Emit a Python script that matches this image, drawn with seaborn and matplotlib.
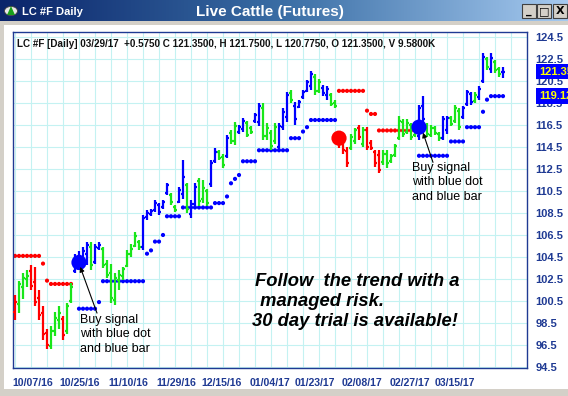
import matplotlib
matplotlib.use("Agg")
import matplotlib.pyplot as plt
import matplotlib.patches as mpatches
from matplotlib.colors import LinearSegmentedColormap
from matplotlib.transforms import blended_transform_factory
import numpy as np
import pandas as pd
import seaborn as sns

# ---------------- data ----------------
bar_high = [101.0, 102.3, 103.0, 103.3, 103.8, 103.6, 101.5, 100.0, 98.0, 98.2,
            99.5, 100.0, 99.1, 100.3, 102.1, 104.8, 105.0, 105.4, 105.9, 105.9,
            105.7, 105.9, 105.4, 104.2, 103.9, 103.0, 103.3, 103.6, 105.1, 105.7,
            106.8, 106.0, 108.3, 108.8, 108.9, 109.7, 109.4, 109.7, 111.2, 110.3,
            109.2, 110.9, 113.3, 111.2, 109.7, 111.2, 111.7, 111.5, 110.7, 113.3,
            114.4, 114.2, 113.9, 115.6, 116.0, 116.8, 116.5, 117.1, 116.9, 116.4,
            117.6, 118.5, 118.5, 116.7, 116.0, 116.7, 116.7, 118.0, 119.5, 119.7,
            118.6, 118.8, 119.7, 120.6, 121.4, 121.1, 120.7, 120.1, 120.0, 119.4,
            118.8, 115.8, 115.1, 114.5, 115.7, 116.2, 116.5, 116.3, 116.3, 115.1,
            114.2, 114.2, 114.2, 114.2, 113.9, 114.8, 117.3, 117.0, 117.0, 116.7,
            116.5, 118.3, 119.1, 116.7, 116.5, 116.4, 115.9, 117.3, 117.3, 117.3,
            118.3, 118.0, 118.2, 119.7, 119.5, 119.5, 120.0, 123.0, 122.7, 123.0,
            122.4, 121.8, 121.75]
bar_low = [98.8, 99.4, 100.7, 101.8, 101.5, 100.0, 98.8, 97.0, 96.1, 96.1,
           97.3, 98.0, 97.0, 97.5, 100.3, 103.0, 103.6, 104.2, 103.8, 103.3,
           103.9, 105.1, 103.5, 102.6, 100.3, 100.1, 101.5, 102.4, 103.6, 104.5,
           105.4, 105.1, 105.1, 107.9, 108.2, 108.6, 108.3, 108.9, 110.1, 109.2,
           108.6, 109.4, 109.8, 108.5, 108.0, 109.1, 109.1, 109.4, 109.1, 110.9,
           113.0, 113.3, 112.6, 113.5, 114.8, 114.7, 115.7, 115.9, 115.4, 115.7,
           116.7, 116.4, 115.1, 115.1, 114.2, 114.8, 114.2, 116.0, 116.8, 118.5,
           116.5, 118.0, 118.9, 119.5, 119.7, 119.2, 119.4, 119.1, 118.8, 118.2,
           118.0, 114.4, 113.9, 112.7, 114.2, 114.8, 115.1, 114.5, 114.2, 114.2,
           112.7, 112.1, 112.9, 112.6, 113.0, 113.6, 115.1, 115.4, 115.7, 115.1,
           115.4, 115.1, 116.7, 115.4, 115.4, 115.6, 115.0, 115.1, 115.7, 116.4,
           116.7, 116.0, 117.0, 118.2, 118.3, 118.5, 118.8, 120.3, 121.5, 121.2,
           121.2, 120.9, 120.775]
bar_open = [99.5, 100.2, 101.8, 102.5, 103.2, 102.2, 100.8, 99.4, 97.6, 96.4,
            97.8, 98.8, 98.9, 97.8, 100.5, 103.2, 104.2, 104.5, 104.8, 105.4,
            104.0, 105.3, 105.2, 103.9, 103.0, 100.6, 102.4, 102.8, 103.7, 104.8,
            105.5, 105.9, 105.4, 108.1, 108.4, 108.8, 109.2, 109.0, 110.3, 110.1,
            109.0, 109.5, 110.2, 111.0, 108.4, 109.3, 111.4, 109.8, 110.5, 111.1,
            113.2, 114.0, 113.6, 113.7, 115.8, 115.0, 115.9, 116.1, 116.7, 116.2,
            116.9, 116.8, 118.0, 115.5, 115.8, 115.0, 114.5, 116.3, 117.2, 119.4,
            118.2, 118.1, 119.0, 119.6, 120.0, 120.9, 119.6, 119.9, 119.2, 119.2,
            118.5, 115.5, 114.8, 114.1, 114.4, 115.0, 116.2, 114.8, 116.0, 114.9,
            114.0, 113.8, 113.1, 113.9, 113.2, 113.8, 115.3, 116.8, 115.9, 116.5,
            115.6, 115.5, 118.2, 116.5, 115.6, 116.2, 115.7, 115.3, 116.0, 117.1,
            116.9, 117.8, 117.2, 118.4, 119.3, 118.7, 119.0, 120.5, 122.5, 121.6,
            122.2, 121.6, 121.35]
bar_close = [100.4, 102.0, 102.6, 102.8, 101.9, 100.4, 99.2, 97.5, 96.5, 97.8,
             99.0, 99.4, 97.4, 100.0, 101.8, 104.4, 104.6, 105.0, 105.6, 103.8,
             105.4, 105.6, 103.8, 102.9, 100.8, 102.6, 102.9, 103.4, 104.8, 105.2,
             106.4, 105.4, 108.0, 108.5, 108.7, 109.4, 108.6, 109.5, 111.0, 109.5,
             108.8, 110.6, 111.8, 108.9, 109.3, 110.9, 109.6, 110.8, 109.4, 113.0,
             114.0, 113.5, 112.9, 115.3, 115.0, 116.4, 116.3, 116.9, 115.6, 115.9,
             117.4, 118.2, 115.5, 116.2, 114.6, 116.3, 116.4, 117.7, 119.2, 118.8,
             117.0, 118.6, 119.5, 120.4, 121.1, 119.6, 120.4, 119.4, 119.8, 118.4,
             118.2, 114.8, 114.2, 113.0, 115.4, 116.0, 115.4, 116.0, 114.5, 114.4,
             113.0, 112.4, 113.9, 113.0, 113.7, 114.6, 116.9, 115.7, 116.7, 115.4,
             116.2, 118.0, 117.0, 115.7, 116.2, 115.8, 115.3, 117.0, 117.1, 116.6,
             118.0, 116.3, 118.0, 119.5, 118.6, 119.2, 119.8, 122.7, 121.8, 122.6,
             121.5, 121.1, 121.35]
bar_state = ("rgggrrrrrg" "ggrggbbbbg" "bbgggggggg" "ggbbbbbbbg" "gbbgbbgggb"
             "bggbggbbgg" "bbggggbbbg" "bbbbbggbbg" "grrrggrgrr" "rrgggggggg"
             "gbbggggbbg" "ggbbbgbbgb" "ggb")

# trailing stop dots: (first bar, last bar, level)
blue_stop_first = [16, 21, 22, 33, 34, 35, 37, 38, 42, 50, 53, 54, 55, 56, 57, 61, 69, 72, 73, 74,
                   101, 109, 113, 117, 118, 119]
blue_stop_last = [20, 21, 32, 33, 34, 36, 37, 41, 49, 52, 53, 54, 55, 56, 60, 68, 71, 72, 73, 80,
                  108, 112, 116, 117, 118, 122]
blue_stop_level = [99.8, 100.4, 102.3, 104.8, 105.1, 105.9, 106.5, 108.2, 109.0, 109.4, 110.0, 111.2,
                   111.6, 111.95, 113.2, 114.2, 115.3, 115.9, 116.3, 116.95,
                   113.7, 115.0, 116.3, 117.7, 118.8, 119.12]
red_stop_first = [0, 7, 8, 9, 81, 88, 89, 91]
red_stop_last = [6, 7, 8, 14, 87, 88, 90, 100]
red_stop_level = [104.6, 103.9, 102.35, 102.05, 119.6, 117.8, 117.5, 116.0]

# signal dots
buy_bars = [16, 101]
buy_prices = [104.0, 116.3]
sell_bars = [81]
sell_prices = [115.3]

date_bars = [4.5, 16.25, 28.25, 40.25, 51.75, 63.75, 75.0, 86.75, 98.75, 110.0]
date_labels = ["10/07/16", "10/25/16", "11/10/16", "11/29/16", "12/15/16",
               "01/04/17", "01/23/17", "02/08/17", "02/27/17", "03/15/17"]
price_ticks = [94.5, 96.5, 98.5, 100.5, 102.5, 104.5, 106.5, 108.5, 110.5,
               112.5, 114.5, 116.5, 118.5, 120.5, 122.5, 124.5]
last_close = 121.35
last_stop = 119.12

header = ("LC #F [Daily] 03/29/17  +0.5750 C 121.3500, H 121.7500, L 120.7750, "
          "O 121.3500, V 9.5800K")

# ---------------- styling ----------------
sns.set_style("white")
plt.rcParams['font.family'] = ['Liberation Sans', 'DejaVu Sans']

W, H = 568, 396
fig = plt.figure(figsize=(W / 100, H / 100), dpi=100)
fig.patch.set_facecolor('white')


def fx(px):
    return px / W


def fy(py):
    return 1 - py / H


AXIS_BLUE = '#1f3a93'
GRID = '#c4f2f2'
COLMAP = {'r': '#ff0000', 'g': '#19e619', 'b': '#0000ff'}

# window chrome
fig.add_artist(mpatches.Rectangle((0, 0), fx(4), 1, transform=fig.transFigure,
                                  facecolor='#d4d0c8', edgecolor='none', zorder=0))
fig.add_artist(mpatches.Rectangle((0, 0), 1, 7 / H, transform=fig.transFigure,
                                  facecolor='#d4d0c8', edgecolor='none', zorder=0))
fig.add_artist(mpatches.Rectangle((0, fy(25)), 1, 4 / H, transform=fig.transFigure,
                                  facecolor='#d4d0c8', edgecolor='none', zorder=0))

ax_t = fig.add_axes([0, fy(21), 1, 21 / H])
grad = LinearSegmentedColormap.from_list('tb', ['#0a246a', '#3a6ea5', '#a6caf0'])
ax_t.imshow(np.linspace(0, 1, 256)[None, :], cmap=grad, aspect='auto', extent=[0, 1, 0, 1])
ax_t.set_axis_off()
fig.add_artist(mpatches.Circle((fx(11), fy(11)), 6.5 / W, transform=fig.transFigure,
                               facecolor='#e8e8e8', edgecolor='#404040', lw=0.6, zorder=5))
fig.add_artist(mpatches.Polygon([(fx(7), fy(15)), (fx(15), fy(15)), (fx(11), fy(6))],
                                closed=True, transform=fig.transFigure,
                                facecolor='#1aa01a', edgecolor='none', zorder=6))
fig.text(fx(22), fy(12), "LC #F Daily", color='white', fontsize=8, weight='bold',
         va='center', ha='left')
fig.text(fx(270), fy(12), "Live Cattle (Futures)", color='white', fontsize=11,
         weight='bold', va='center', ha='center')
for bx, sym in [(522, '_'), (537, '□'), (553, 'X')]:
    fig.add_artist(mpatches.Rectangle((fx(bx), fy(18)), 14 / W, 14 / H,
                                      transform=fig.transFigure, facecolor='#d4d0c8',
                                      edgecolor='#404040', lw=0.8, zorder=5))
    fig.text(fx(bx + 7), fy(11.5), sym, color='black', fontsize=8, weight='bold',
             ha='center', va='center', zorder=6, family=['DejaVu Sans'])

# main axes
ax = fig.add_axes([fx(13), fy(368), (527 - 13) / W, (368 - 32) / H])
ax.set_facecolor('white')
ax.set_xlim(-0.5, 128)
ax.set_ylim(94.41, 124.95)

n = len(bar_high)
idx = np.arange(n)
cols = [COLMAP[s] for s in bar_state]

# grid
ax.set_yticks(price_ticks)
ax.set_yticklabels([f"{v:.1f}" for v in price_ticks])
ax.set_xticks(date_bars)
ax.set_xticklabels(date_labels)
ax.set_xticks(np.arange(0, 128, 4), minor=True)
ax.grid(True, which='minor', axis='x', color=GRID, lw=0.8)
ax.grid(True, which='major', axis='y', color=GRID, lw=0.8)
ax.set_axisbelow(True)

for sp in ax.spines.values():
    sp.set_color(AXIS_BLUE)
    sp.set_linewidth(1.0)

ax.yaxis.tick_right()
ax.tick_params(axis='y', length=0, pad=6, labelsize=8, labelcolor=AXIS_BLUE)
for t in ax.get_yticklabels():
    t.set_fontweight('bold')
ax.tick_params(axis='x', which='major', length=0, pad=7, labelsize=7.6,
               labelcolor=AXIS_BLUE)
ax.tick_params(axis='x', which='minor', length=3, width=0.8, color=AXIS_BLUE,
               direction='out')
for t in ax.get_xticklabels():
    t.set_fontweight('bold')

# trailing stop dots
stop_rows = []
for f, l, v in zip(blue_stop_first, blue_stop_last, blue_stop_level):
    for b in range(f, l + 1):
        stop_rows.append((b, v, 'blue'))
for f, l, v in zip(red_stop_first, red_stop_last, red_stop_level):
    for b in range(f, l + 1):
        stop_rows.append((b, v, 'red'))
stops = pd.DataFrame(stop_rows, columns=['bar', 'level', 'side'])
sns.scatterplot(data=stops, x='bar', y='level', hue='side',
                palette={'blue': '#0000ff', 'red': '#ff0000'}, s=9, linewidth=0,
                legend=False, ax=ax, zorder=2)

# OHLC bars
ax.vlines(idx, bar_low, bar_high, colors=cols, lw=1.6, zorder=3)
ax.hlines(bar_open, idx - 0.6, idx, colors=cols, lw=1.6, zorder=3)
ax.hlines(bar_close, idx, idx + 0.6, colors=cols, lw=1.6, zorder=3)

# signals
sig = pd.DataFrame({'bar': buy_bars + sell_bars, 'price': buy_prices + sell_prices,
                    'kind': ['buy'] * len(buy_bars) + ['sell'] * len(sell_bars)})
sns.scatterplot(data=sig, x='bar', y='price', hue='kind',
                palette={'buy': '#0000ff', 'sell': '#ff0000'}, s=120, linewidth=0,
                legend=False, ax=ax, zorder=5)
ax.set_xlabel('')
ax.set_ylabel('')

# value boxes on the right
tr = blended_transform_factory(ax.transAxes, ax.transData)
for v in [last_close, last_stop]:
    ax.text(1.0235, v, f"{v:.2f}", transform=tr, color='#ffff00', fontsize=8,
            weight='bold', ha='left', va='center', clip_on=False, zorder=10,
            bbox=dict(boxstyle='square,pad=0.25', fc='#0000ff', ec='none'))

# header text
fig.text(fx(17), fy(44), header, fontsize=7.1, weight='bold', color='#111111',
         ha='left', va='center')

# annotations
for i, line in enumerate(["Buy signal", "with blue dot", "and blue bar"]):
    fig.text(fx(80), fy(320 + 14.3 * i), line, fontsize=9, color='black',
             ha='left', va='center')
    fig.text(fx(412), fy(168 + 14.3 * i), line, fontsize=9, color='black',
             ha='left', va='center')
ax.annotate('', xy=(16.3, 103.6), xytext=(20.5, 99.4),
            arrowprops=dict(arrowstyle='-|>', color='black', lw=0.8,
                            mutation_scale=7, shrinkA=0, shrinkB=0), zorder=6)
ax.annotate('', xy=(102.0, 115.8), xytext=(104.5, 113.1),
            arrowprops=dict(arrowstyle='-|>', color='black', lw=0.8,
                            mutation_scale=7, shrinkA=0, shrinkB=0), zorder=6)

for px, py, line in [(255, 281, "Follow  the trend with a"),
                     (255, 301, " managed risk."),
                     (252, 322, "30 day trial is available!")]:
    fig.text(fx(px), fy(py), line, fontsize=13.2, weight='bold', style='italic',
             color='black', ha='left', va='center')

fig.savefig('out.png', dpi=100)
